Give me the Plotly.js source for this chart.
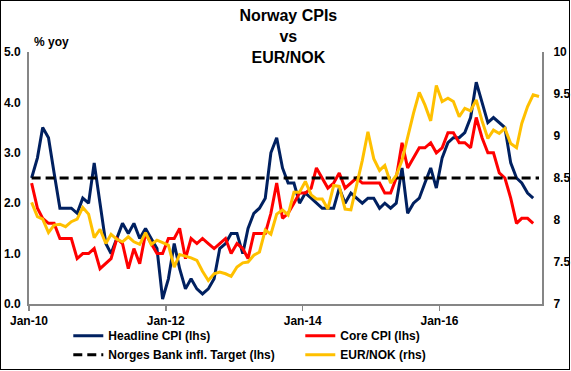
<!DOCTYPE html>
<html>
<head>
<meta charset="utf-8">
<script src="https://cdn.plot.ly/plotly-3.0.1.min.js"></script>
<style>
  html, body { margin: 0; padding: 0; background: #ffffff; }
  #wrap { position: relative; width: 571px; height: 371px; }
  #chart { position: absolute; left: 0; top: 0; width: 571px; height: 371px; }
  #frame { position: absolute; left: 0; top: 0; width: 570px; height: 370px; box-sizing: border-box;
           border: 1px solid #000; pointer-events: none; }
</style>
</head>
<body>
<div id="wrap"><div id="chart"></div><div id="frame"></div></div>
<script>
// Monthly observations starting Jan-2010
var startYear = 2010;
var headlineCPI = [2.5,2.9,3.5,3.3,2.6,1.9,1.9,1.9,1.8,2.1,2.0,2.8,
  2.0,1.2,1.0,1.3,1.6,1.4,1.6,1.3,1.5,1.3,1.1,0.1,
  0.5,1.2,0.7,0.3,0.5,0.3,0.2,0.3,0.5,1.1,1.2,1.4,
  1.4,1.0,1.5,1.8,1.9,2.1,3.0,3.3,2.7,2.4,2.4,2.0,
  2.2,2.1,2.0,1.9,1.9,1.9,2.3,2.0,2.2,2.1,2.0,2.1,
  2.1,1.9,2.0,1.9,2.0,2.7,1.8,2.0,2.1,2.4,2.7,2.3,
  2.9,3.2,3.3,3.3,3.4,3.7,4.4,4.0,3.6,3.7,3.6,3.5,
  2.8,2.5,2.4,2.2,2.1];
var coreCPI = [2.4,1.9,1.7,1.6,1.6,1.3,1.3,1.3,0.9,1.0,1.0,1.1,
  0.7,0.8,0.9,1.3,1.2,0.7,1.1,0.8,1.4,1.2,1.0,1.0,
  1.3,1.3,1.5,0.9,1.3,1.2,1.3,1.2,1.1,1.2,1.3,1.0,
  1.2,1.1,0.9,1.4,1.4,1.4,1.8,2.4,1.7,1.8,2.0,2.2,
  2.2,2.3,2.7,2.5,2.3,2.4,2.6,2.3,2.4,2.5,2.4,2.4,
  2.4,2.4,2.2,2.2,2.5,3.2,2.7,2.9,3.1,3.1,3.2,3.0,
  3.1,3.4,3.4,3.2,3.2,3.1,3.7,3.3,3.0,3.0,2.6,2.5,
  2.1,1.6,1.7,1.7,1.6];
var eurNok = [8.21,8.04,8.01,7.85,7.94,7.95,7.92,7.98,8.01,8.15,8.07,7.79,
  7.89,7.72,7.83,7.77,7.74,7.80,7.74,7.71,7.85,7.71,7.76,7.73,
  7.70,7.44,7.59,7.57,7.55,7.52,7.39,7.28,7.36,7.38,7.36,7.33,
  7.44,7.49,7.50,7.58,7.62,7.88,7.83,8.07,8.12,8.06,8.33,8.33,
  8.46,8.30,8.25,8.25,8.13,8.41,8.40,8.13,8.12,8.41,8.71,9.05,
  8.73,8.59,8.65,8.44,8.53,8.71,8.99,9.27,9.52,9.37,9.18,9.60,
  9.41,9.45,9.41,9.23,9.33,9.30,9.43,9.18,8.97,9.07,9.03,9.09,
  8.91,8.86,9.15,9.35,9.49,9.47];
var inflationTarget = 2.5;
var leftTicks = [0,1,2,3,4,5];
var rightTicks = [7,7.5,8,8.5,9,9.5,10];
var seriesNames = ['Headline CPI (lhs)','Core CPI (lhs)','Norges Bank infl. Target (lhs)','EUR/NOK (rhs)'];

function monthDates(n) {
  var out = [];
  for (var i = 0; i < n; i++) {
    var y = startYear + Math.floor(i / 12);
    var m = (i % 12) + 1;
    out.push(y + '-' + (m < 10 ? '0' + m : m) + '-15');
  }
  return out;
}
var datesCPI = monthDates(headlineCPI.length);
var datesFX = monthDates(eurNok.length);
var targetLine = eurNok.map(function(){ return inflationTarget; });

var FONT = 'Arial, "Liberation Sans", sans-serif';

var traces = [
  {x: datesCPI, y: headlineCPI, name: seriesNames[0], type: 'scatter', mode: 'lines',
   line: {color: '#002060', width: 3}, legendrank: 1},
  {x: datesCPI, y: coreCPI, name: seriesNames[1], type: 'scatter', mode: 'lines',
   line: {color: '#FF0000', width: 3}, legendrank: 2},
  {x: datesFX, y: targetLine, name: seriesNames[2], type: 'scatter', mode: 'lines',
   line: {color: '#000000', width: 3, dash: '9px,5px'}, legendrank: 3},
  {x: datesFX, y: eurNok, name: seriesNames[3], type: 'scatter', mode: 'lines', yaxis: 'y2',
   line: {color: '#FFC000', width: 3}, legendrank: 4}
];

var layout = {
  width: 571, height: 371,
  margin: {l: 29, r: 29, t: 52, b: 67, pad: 0},
  paper_bgcolor: '#ffffff', plot_bgcolor: '#ffffff',
  font: {family: FONT, size: 12, color: '#000'},
  title: {text: 'Norway CPIs<br>vs<br>EUR/NOK', font: {family: FONT, size: 16, weight: 'bold', color: '#000'},
          x: 0.505, xanchor: 'center', xref: 'container', y: 0.943, yanchor: 'top', yref: 'container'},
  showlegend: true,
  legend: {orientation: 'h', xref: 'container', yref: 'container', x: 0.1196, xanchor: 'left',
           y: 0.134, yanchor: 'top', entrywidth: 187, entrywidthmode: 'pixels',
           font: {family: FONT, size: 12, weight: 'bold', color: '#000'},
           bgcolor: 'rgba(0,0,0,0)', borderwidth: 0, tracegroupgap: 0, itemwidth: 30},
  xaxis: {type: 'date', range: ['2010-01-01', '2017-07-01'], tick0: '2010-01-01', dtick: 'M24',
          tickformat: '%b-%y', showgrid: false, zeroline: false,
          showline: true, linecolor: '#868686', linewidth: 2,
          ticks: 'outside', ticklen: 5, tickwidth: 1.5, tickcolor: '#868686',
          tickfont: {family: FONT, size: 12, weight: 'bold', color: '#000'}},
  yaxis: {range: [0, 5], tickvals: leftTicks, tickformat: '.1f', showgrid: false, zeroline: false,
          showline: true, linecolor: '#868686', linewidth: 2, ticks: '',
          ticklabelstandoff: 4,
          tickfont: {family: FONT, size: 12, weight: 'bold', color: '#000'}},
  yaxis2: {range: [7, 10], tickvals: rightTicks, overlaying: 'y', side: 'right',
           showgrid: false, zeroline: false, showline: true, linecolor: '#868686', linewidth: 2,
           ticks: '', ticklabelstandoff: 7,
           tickfont: {family: FONT, size: 12, weight: 'bold', color: '#000'}},
  annotations: [{text: '% yoy', xref: 'paper', yref: 'paper', x: 0, y: 1, xanchor: 'left', yanchor: 'middle',
                 xshift: 3, yshift: 10, showarrow: false,
                 font: {family: FONT, size: 12, weight: 'bold', color: '#000'}}]
};

Plotly.newPlot('chart', traces, layout, {displayModeBar: false, staticPlot: true});
</script>
</body>
</html>
